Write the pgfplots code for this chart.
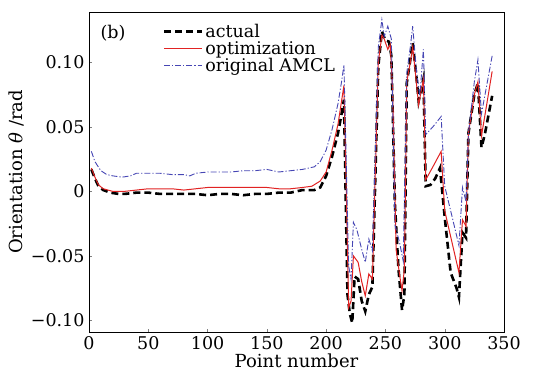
\documentclass[border=0pt]{standalone}
\usepackage{fontspec}
\setmainfont{DejaVu Serif}
\usepackage{pgfplots}
\pgfplotsset{compat=1.18}
\definecolor{myred}{RGB}{225,35,35}
\definecolor{myblue}{RGB}{70,70,180}
\begin{document}
\begin{tikzpicture}
\begin{axis}[
  scale only axis, width=415pt, height=320pt,
  xmin=0, xmax=350, ymin=-0.109, ymax=0.139,
  xtick={0,50,...,350},
  ytick={-0.1,-0.05,0,0.05,0.1},
  yticklabels={−0.10,−0.05,0,0.05,0.10},
  xticklabels={0,50,100,150,200,250,300,350},
  tick align=inside, tick pos=left,
  major tick length=3pt,
  ticklabel style={font=\fontsize{17.5}{20}\selectfont},
  xticklabel style={yshift=-1pt},
  yticklabel style={xshift=-1pt},
  xlabel={Point number}, ylabel={Orientation \textit{θ} /rad},
  xlabel style={font=\fontsize{18}{20}\selectfont, yshift=3pt},
  ylabel style={font=\fontsize{18}{20}\selectfont, yshift=0pt},
  axis line style={line width=0.8pt},
  legend style={draw=none, fill=none, at={(0.17,0.975)}, anchor=north west,
    font=\fontsize{17.5}{19}\selectfont, row sep=-1.5pt},
  legend cell align=left,
  legend image code/.code={\draw[mark repeat=2,mark phase=2,#1] plot coordinates {(0pt,0pt)(19pt,0pt)(38pt,0pt)};},
]
\addplot[black, line width=2.6pt, dash pattern=on 7pt off 4pt] coordinates {
(2,0.017)(5,0.010)(8,0.004)(12,0.001)(18,-0.001)(25,-0.002)(30,-0.002)(40,-0.001)(50,-0.001)(60,-0.002)(70,-0.002)(80,-0.002)(90,-0.002)(100,-0.003)(110,-0.002)(120,-0.002)(130,-0.003)(140,-0.002)(150,-0.002)(160,-0.001)(170,-0.001)(180,0.001)(190,0.001)(195,0.003)(200,0.012)(205,0.027)(210,0.045)(213,0.060)(215,0.071)(218,-0.08)(220,-0.095)(222,-0.102)(224,-0.066)(227,-0.068)(230,-0.085)(233,-0.093)(236,-0.080)(239,-0.074)(244,0.097)(247,0.124)(250,0.117)(253,0.116)(255,0.105)(258,-0.01)(261,-0.06)(264,-0.092)(266,-0.08)(268,0.084)(271,0.102)(273,0.115)(276,0.09)(278,0.070)(282,0.087)(284,0.004)(288,0.005)(292,0.010)(296,0.018)(300,-0.020)(305,-0.063)(310,-0.075)(312,-0.082)(315,-0.032)(318,-0.036)(320,0.045)(325,0.075)(328,0.084)(331,0.034)(334,0.045)(340,0.074)
};
\addlegendentry{actual}
\addplot[myred, line width=1pt] coordinates {
(2,0.018)(5,0.011)(8,0.005)(12,0.002)(20,0)(30,0)(40,0.001)(50,0.002)(60,0.002)(70,0.002)(80,0.001)(90,0.002)(100,0.003)(110,0.003)(120,0.003)(130,0.003)(140,0.003)(150,0.003)(160,0.002)(170,0.002)(180,0.003)(188,0.004)(195,0.008)(200,0.015)(205,0.032)(210,0.052)(213,0.070)(215,0.082)(217,0.0)(219,-0.090)(221,-0.085)(223,-0.050)(227,-0.055)(230,-0.070)(233,-0.081)(236,-0.064)(239,-0.068)(244,0.100)(247,0.121)(249,0.118)(252,0.110)(254,0.114)(256,0.080)(259,-0.045)(262,-0.065)(264,-0.077)(266,-0.060)(268,0.085)(271,0.100)(273,0.112)(276,0.085)(278,0.067)(282,0.087)(284,0.009)(290,0.019)(297,0.031)(300,-0.015)(305,-0.035)(312,-0.063)(315,-0.022)(318,-0.027)(320,0.045)(325,0.075)(328,0.085)(331,0.043)(335,0.065)(340,0.093)
};
\addlegendentry{optimization}
\addplot[myblue, line width=0.9pt, dash pattern=on 6pt off 2pt on 1.2pt off 2pt] coordinates {
(2,0.031)(5,0.023)(10,0.016)(15,0.013)(20,0.012)(28,0.011)(35,0.012)(40,0.014)(50,0.014)(60,0.014)(70,0.013)(80,0.013)(85,0.012)(90,0.014)(100,0.015)(110,0.015)(120,0.015)(130,0.016)(140,0.016)(150,0.017)(155,0.016)(160,0.015)(170,0.016)(180,0.017)(190,0.019)(195,0.023)(200,0.032)(205,0.048)(210,0.068)(213,0.085)(215,0.098)(217,0.020)(219,-0.058)(221,-0.068)(223,-0.024)(226,-0.030)(230,-0.045)(233,-0.055)(236,-0.037)(239,-0.046)(244,0.112)(247,0.133)(249,0.120)(252,0.128)(255,0.118)(258,-0.026)(262,-0.040)(265,-0.054)(268,0.092)(271,0.112)(273,0.128)(276,0.095)(279,0.074)(282,0.110)(284,0.044)(290,0.050)(297,0.058)(300,0.004)(305,-0.015)(312,-0.042)(315,0.003)(318,-0.008)(320,0.045)(325,0.085)(328,0.102)(331,0.060)(335,0.080)(340,0.105)
};
\addlegendentry{original AMCL}
\node[font=\fontsize{17.5}{20}\selectfont, anchor=center] at (rel axis cs:0.058,0.935) {(b)};
\end{axis}
\path ([yshift=12pt]current axis.north) ([xshift=30pt]current axis.east)
      ([xshift=-89pt]current axis.west) ([yshift=-49pt]current axis.south);
\end{tikzpicture}
\end{document}
